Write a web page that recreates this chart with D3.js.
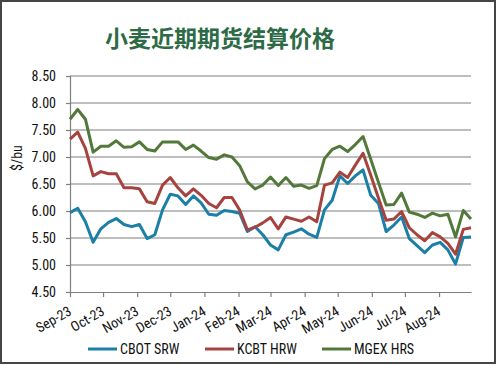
<!DOCTYPE html>
<html><head><meta charset="utf-8">
<script src="https://cdn.jsdelivr.net/npm/d3@7"></script>
<style>
html,body{margin:0;padding:0;background:#fff;}
svg{display:block;}
.lbl{font-family:"Liberation Sans Narrow","Arial Narrow","Roboto Condensed",Roboto,sans-serif;font-stretch:condensed;font-size:14px;fill:#111;}
</style></head>
<body>
<svg id="c" width="499" height="366"></svg>
<script>
const title = "小麦近期期货结算价格";
const yLabel = "$/bu";
const dates = ["2023-09-01","2023-09-08","2023-09-15","2023-09-22","2023-09-29",
"2023-10-06","2023-10-13","2023-10-20","2023-10-27",
"2023-11-03","2023-11-10","2023-11-17","2023-11-24",
"2023-12-01","2023-12-08","2023-12-15","2023-12-22","2023-12-29",
"2024-01-05","2024-01-12","2024-01-19","2024-01-26",
"2024-02-02","2024-02-09","2024-02-16","2024-02-23",
"2024-03-01","2024-03-08","2024-03-15","2024-03-22","2024-03-29",
"2024-04-05","2024-04-12","2024-04-19","2024-04-26",
"2024-05-03","2024-05-10","2024-05-17","2024-05-24","2024-05-31",
"2024-06-07","2024-06-14","2024-06-21","2024-06-28",
"2024-07-05","2024-07-12","2024-07-19","2024-07-26",
"2024-08-02","2024-08-09","2024-08-16","2024-08-23","2024-08-30"];
const cbotSRW = [5.97,6.05,5.80,5.42,5.67,5.79,5.86,5.75,5.71,5.75,5.49,5.56,6.02,6.31,6.28,6.12,6.28,6.15,5.94,5.92,6.01,5.99,5.96,5.62,5.71,5.56,5.37,5.28,5.56,5.61,5.67,5.57,5.51,6.02,6.20,6.65,6.51,6.65,6.76,6.29,6.14,5.62,5.74,5.89,5.49,5.36,5.23,5.37,5.42,5.28,5.02,5.51,5.52];
const kcbtHRW = [7.33,7.46,7.16,6.65,6.73,6.69,6.69,6.43,6.43,6.41,6.17,6.14,6.48,6.62,6.43,6.28,6.41,6.29,6.14,6.06,6.25,6.25,6.02,5.65,5.70,5.78,5.88,5.67,5.89,5.85,5.81,5.89,5.80,6.48,6.52,6.72,6.62,6.85,7.07,6.66,6.24,5.83,5.85,5.99,5.69,5.56,5.45,5.60,5.52,5.40,5.20,5.66,5.69];
const mgexHRS = [7.70,7.88,7.70,7.09,7.20,7.20,7.30,7.18,7.19,7.28,7.14,7.11,7.28,7.28,7.28,7.14,7.22,7.11,6.99,6.96,7.04,7.00,6.84,6.54,6.41,6.48,6.63,6.47,6.62,6.46,6.48,6.42,6.47,6.97,7.14,7.20,7.10,7.23,7.38,6.96,6.53,6.11,6.12,6.33,5.98,5.94,5.88,5.96,5.91,5.94,5.52,6.01,5.85];
const seriesNames = ["CBOT SRW","KCBT HRW","MGEX HRS"];
const seriesColors = ["#1b7fa7","#a6433f","#52793a"];
const yTicks = [4.5,5.0,5.5,6.0,6.5,7.0,7.5,8.0,8.5];
const monthTicks = ["2023-09-01","2023-10-01","2023-11-01","2023-12-01","2024-01-01","2024-02-01","2024-03-01","2024-04-01","2024-05-01","2024-06-01","2024-07-01","2024-08-01"];

const svg = d3.select("#c");
const parse = d3.utcParse("%Y-%m-%d");
const xd = dates.map(parse);
const x = d3.scaleUtc().domain([xd[0], xd[xd.length-1]]).range([70, 471]);
const y = d3.scaleLinear().domain([4.5, 8.5]).range([292, 76]);

// outer frame
svg.append("rect").attr("x",1).attr("y",1).attr("width",494).attr("height",362)
  .attr("fill","#fff").attr("stroke","#454545").attr("stroke-width",2);

// title
svg.append("text").attr("x",220).attr("y",47).attr("text-anchor","middle")
  .style("font-family","'Noto Sans CJK SC',sans-serif").style("font-weight","bold")
  .style("font-size","23px").attr("fill","#2d6a46").text(title);

// gridlines
svg.append("g").selectAll("line").data(yTicks.slice(1)).join("line")
  .attr("x1",70).attr("x2",471).attr("y1",d=>y(d)).attr("y2",d=>y(d))
  .attr("stroke","#7f7f7f").attr("stroke-width",1.2);

// y axis
const yAxis = svg.append("g").attr("transform","translate(70,0)")
  .call(d3.axisLeft(y).tickValues(yTicks).tickFormat(d3.format(".2f")).tickSize(4).tickPadding(10));
yAxis.select(".domain").attr("stroke","#7f7f7f").attr("stroke-width",1.2);
yAxis.selectAll(".tick line").attr("stroke","#7f7f7f").attr("stroke-width",1.2);
yAxis.selectAll("text").attr("class","lbl").attr("fill","#111");

// x axis
const xAxis = svg.append("g").attr("transform","translate(0,292)")
  .call(d3.axisBottom(x).tickValues(monthTicks.map(parse)).tickFormat(d3.utcFormat("%b-%y")).tickSizeInner(5).tickSizeOuter(0));
xAxis.select(".domain").attr("stroke","#7f7f7f").attr("stroke-width",1.2);
xAxis.selectAll(".tick line").attr("stroke","#7f7f7f").attr("stroke-width",1.2);
xAxis.selectAll("text").attr("class","lbl").attr("fill","#111")
  .attr("text-anchor","end").attr("dy",null).attr("y",null)
  .attr("transform","translate(2,22) rotate(-30)");

// y label
svg.append("text").attr("class","lbl").attr("text-anchor","middle")
  .attr("transform","translate(22,158) rotate(-90)").text(yLabel);

// lines
const line = d3.line().x((d,i)=>x(xd[i])).y(d=>y(d));
[cbotSRW,kcbtHRW,mgexHRS].forEach((s,k)=>{
  svg.append("path").datum(s).attr("d",line).attr("fill","none")
    .attr("stroke",seriesColors[k]).attr("stroke-width",3).attr("stroke-linejoin","round");
});

// legend
const lg = svg.append("g").selectAll("g").data(seriesNames).join("g")
  .attr("transform",(d,i)=>`translate(${88+i*117},349)`);
lg.append("line").attr("x1",0).attr("x2",29).attr("y1",0).attr("y2",0)
  .attr("stroke",(d,i)=>seriesColors[i]).attr("stroke-width",3);
lg.append("text").attr("class","lbl").attr("x",32).attr("y",5).text(d=>d);
</script>
</body></html>
